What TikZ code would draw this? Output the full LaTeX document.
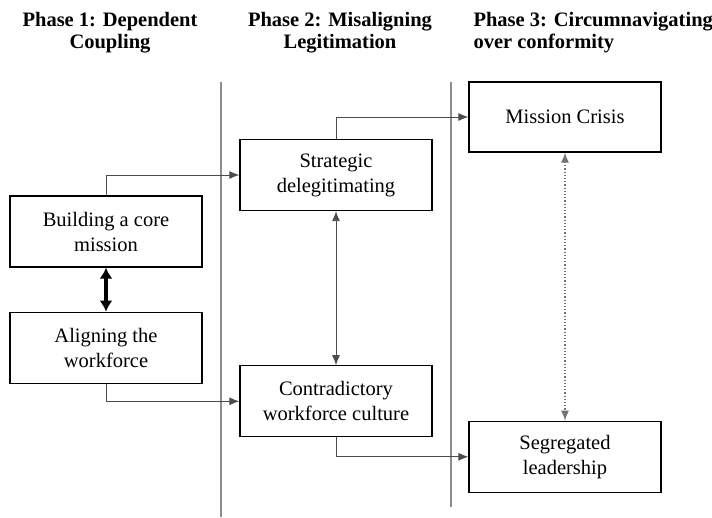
\documentclass[tikz,border=0pt]{standalone}
\usepackage{fontspec}
\setmainfont{Liberation Serif}
\usetikzlibrary{positioning,arrows.meta}

\tikzset{
  box/.style={draw, line width=1.3pt, minimum width=192pt, minimum height=71pt,
    align=center, inner sep=0pt, font=\fontsize{20.5}{25}\selectfont},
  flow/.style={draw=black!70, line width=0.9pt, -{Latex[length=10pt,width=8pt]}},
  twoway/.style={draw=black!70, line width=0.9pt, {Latex[length=10pt,width=8pt]}-{Latex[length=10pt,width=8pt]}},
  strongway/.style={draw=black, line width=3.5pt, {Latex[length=11pt,width=13pt]}-{Latex[length=11pt,width=13pt]}},
  looseway/.style={draw=black!55, line width=1.2pt, dotted, {Latex[length=10pt,width=8pt]}-{Latex[length=10pt,width=8pt]}},
  phase/.style={font=\bfseries\fontsize{20.5}{22}\selectfont},
  divider/.style={draw=black!45, line width=1.5pt}
}

\begin{document}
\begin{tikzpicture}[x=1pt,y=-1pt]
\useasboundingbox (0,0) rectangle (712,517);

% phase headings
\node[phase, align=center] (ph1) at (110,33) {Phase 1: Dependent\\Coupling};
\node[phase, align=center] (ph2) at (340,33) {Phase 2: Misaligning\\Legitimation};
\node[phase, align=left, anchor=west] (ph3) at (470,33) {Phase 3: Circumnavigating\\over conformity};

% dividers
\coordinate (d1top) at (221,82);
\coordinate (d1bot) at (221,517);
\coordinate (d2top) at (451,82);
\coordinate (d2bot) at (451,507);
\draw[divider] (d1top) -- (d1bot);
\draw[divider] (d2top) -- (d2bot);

% boxes
\node[box] (build) at (106,231.5) {Building a core\\mission};
\node[box, below=44pt of build] (align) {Aligning the\\workforce};
\node[box] (strat) at (336,175) {Strategic\\delegitimating};
\node[box, below=154pt of strat] (contra) {Contradictory\\workforce culture};
\node[box, minimum height=70pt] (crisis) at (565,117) {Mission Crisis};
\node[box, below=268pt of crisis] (segr) {Segregated\\leadership};

% links
\draw[flow] (build.north) |- (strat.west);
\draw[flow] (align.south) |- (contra.west);
\draw[flow] (strat.north) |- (crisis.west);
\draw[flow] (contra.south) |- (segr.west);
\draw[strongway] (build) -- (align);
\draw[twoway] (strat) -- (contra);
\draw[looseway] (crisis) -- (segr);
\end{tikzpicture}
\end{document}
